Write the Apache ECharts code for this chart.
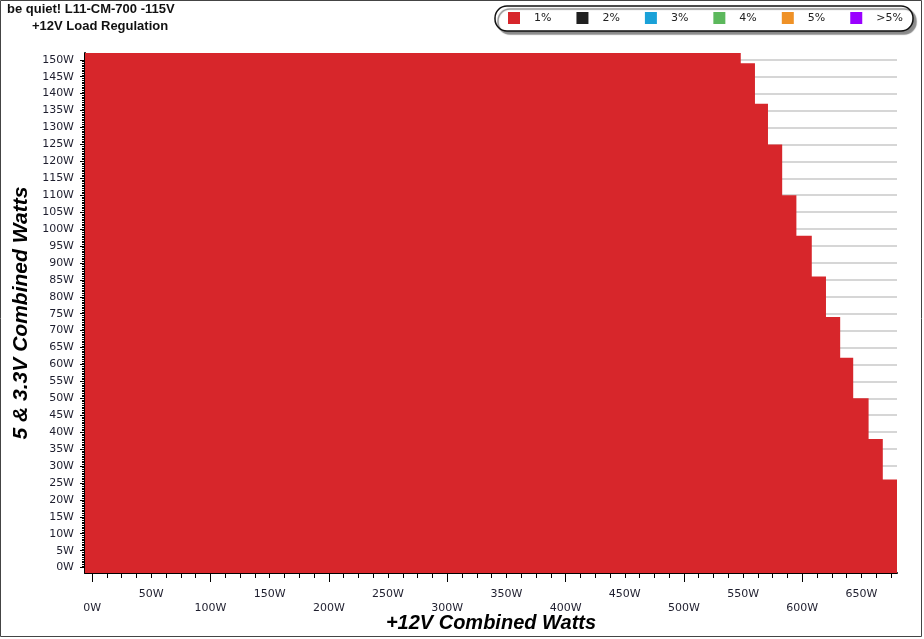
<!DOCTYPE html>
<html>
<head>
<meta charset="utf-8">
<script src="https://cdn.jsdelivr.net/npm/echarts@6/dist/echarts.min.js"></script>
<style>
  html, body { margin: 0; padding: 0; background: #fff; }
  #chart { width: 924px; height: 639px; }
</style>
</head>
<body>
<div id="chart"></div>
<script>
// ---- data ----
const titleMain = 'be quiet! L11-CM-700 -115V';
const titleSub = '+12V Load Regulation';
const legendNames = ['1%', '2%', '3%', '4%', '5%', '>5%'];
const legendColors = ['#d7262b', '#1f1f1f', '#1aa1d8', '#5cb85c', '#ef9126', '#9a00ff'];
// right edge (W on +12V) of each column band of the 1% region
const stepEdgesW = [548, 560, 571, 583, 595, 608, 620, 632, 643, 656, 668, 680];
// 5 & 3.3V combined watts reached by each band
const levelW = [152, 149, 137, 125, 110, 98, 86, 74, 62, 50, 38, 26];
// axis ticks / labels
const xLabelUpper = [50, 150, 250, 350, 450, 550, 650];
const xLabelLower = [0, 100, 200, 300, 400, 500, 600];
const xMajorTicks = [0, 100, 200, 300, 400, 500, 600];
const xMinorStep = 12.5;
const yTickValues = [0, 5, 10, 15, 20, 25, 30, 35, 40, 45, 50, 55, 60, 65, 70, 75,
  80, 85, 90, 95, 100, 105, 110, 115, 120, 125, 130, 135, 140, 145, 150];
const yMinorStep = 0.5;
const xMin = -6, xMax = 680, yMin = -1.6, yMax = 152;

// ---- build ----
const xMinorTicks = [];
for (let v = 0; v <= xMax + 1e-6; v += xMinorStep) xMinorTicks.push(v);
const yMinorTicks = [];
for (let v = 0; v <= 150 + 1e-6; v += yMinorStep) yMinorTicks.push(v);

const areaData = [[xMin, levelW[0]]];
for (let i = 1; i < levelW.length; i++) areaData.push([stepEdgesW[i - 1], levelW[i]]);
areaData.push([stepEdgesW[stepEdgesW.length - 1], levelW[levelW.length - 1]]);

const labelFont = { fontFamily: 'DejaVu Sans', fontSize: 11, color: '#1e1e2e' };
const nameFontX = { fontFamily: 'Liberation Sans', fontSize: 20, fontWeight: 'bold', fontStyle: 'italic', color: '#000' };
const nameFontY = { fontFamily: 'Liberation Sans', fontSize: 21, fontWeight: 'bold', fontStyle: 'italic', color: '#000' };

const series = [{
  name: legendNames[0],
  type: 'line',
  step: 'end',
  data: areaData,
  showSymbol: false,
  symbol: 'none',
  lineStyle: { width: 0, color: legendColors[0] },
  itemStyle: { color: legendColors[0] },
  areaStyle: { color: legendColors[0], opacity: 1, origin: 'start' },
  silent: true,
  z: 3
}];
for (let i = 1; i < legendNames.length; i++) {
  series.push({ name: legendNames[i], type: 'line', data: [], itemStyle: { color: legendColors[i] } });
}

const chart = echarts.init(document.getElementById('chart'), null, { renderer: 'canvas' });
chart.setOption({
  animation: false,
  backgroundColor: '#fff',
  title: [
    { text: titleMain, left: 7, top: 3, padding: 0,
      textStyle: { fontFamily: 'Liberation Sans', fontSize: 13, fontWeight: 'bold', color: '#111' } },
    { text: titleSub, left: 32, top: 20, padding: 0,
      textStyle: { fontFamily: 'Liberation Sans', fontSize: 13, fontWeight: 'bold', color: '#111' } }
  ],
  graphic: [
    { type: 'rect', z: 0, silent: true,
      shape: { x: 0.5, y: 0.5, width: 921, height: 636 },
      style: { fill: null, stroke: '#444', lineWidth: 1 } },
    { type: 'rect', z: 0, silent: true,
      shape: { x: 495, y: 6, width: 418, height: 25, r: 12 },
      style: { fill: '#fff', stroke: '#111', lineWidth: 1.5,
               shadowColor: '#8a8a8a', shadowOffsetX: 3, shadowOffsetY: 3, shadowBlur: 1 } }
  ],
  legend: {
    data: legendNames,
    left: 508, top: 12, padding: 0,
    itemWidth: 12, itemHeight: 12, itemGap: 25,
    icon: 'rect',
    textStyle: { fontFamily: 'DejaVu Sans', fontSize: 11, color: '#222', padding: [0, 0, 0, 9] },
    selectedMode: false,
    z: 5
  },
  grid: { left: 85, right: 27, top: 53, bottom: 66, containLabel: false, outerBoundsMode: 'none' },
  xAxis: [
    {
      type: 'value', min: xMin, max: xMax, position: 'bottom',
      name: '+12V Combined Watts', nameLocation: 'middle', nameGap: 40, nameTextStyle: nameFontX,
      axisLine: { show: true, onZero: false, lineStyle: { color: '#000', width: 2 } },
      axisTick: { show: true, customValues: xMinorTicks, length: 5, lineStyle: { color: '#000', width: 1 } },
      axisLabel: { show: true, customValues: xLabelUpper, margin: 16, formatter: v => v + 'W', ...labelFont },
      splitLine: { show: false }
    },
    {
      type: 'value', min: xMin, max: xMax, position: 'bottom',
      axisLine: { show: false, onZero: false },
      axisTick: { show: true, customValues: xMajorTicks, length: 9, lineStyle: { color: '#000', width: 1 } },
      axisLabel: { show: true, customValues: xLabelLower, margin: 30, formatter: v => v + 'W', ...labelFont },
      splitLine: { show: false }
    }
  ],
  yAxis: [
    {
      type: 'value', min: yMin, max: yMax, position: 'left',
      name: '5 & 3.3V Combined Watts', nameLocation: 'middle', nameGap: 52, nameRotate: 90, nameTextStyle: nameFontY,
      axisLine: { show: true, onZero: false, lineStyle: { color: '#000', width: 2 } },
      axisTick: { show: true, customValues: yTickValues, length: 5, lineStyle: { color: '#000', width: 1 } },
      axisLabel: { show: true, customValues: yTickValues, margin: 11, formatter: v => v + 'W', ...labelFont },
      splitLine: { show: true, lineStyle: { color: '#c8c8c8', width: 1.5 } }
    },
    {
      type: 'value', min: yMin, max: yMax, position: 'left',
      axisLine: { show: false, onZero: false },
      axisTick: { show: true, customValues: yMinorTicks, length: 3, lineStyle: { color: '#000', width: 1 } },
      axisLabel: { show: false },
      splitLine: { show: false }
    }
  ],
  series: series
});
</script>
</body>
</html>
